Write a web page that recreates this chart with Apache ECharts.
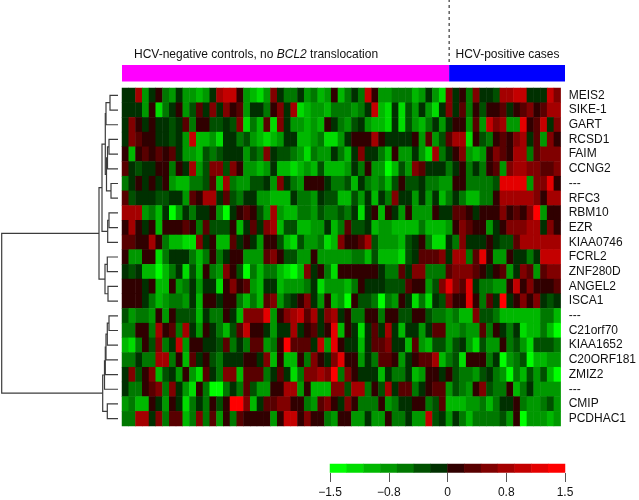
<!DOCTYPE html>
<html>
<head>
<meta charset="utf-8">
<title>HCV heatmap</title>
<style>
  html, body { margin: 0; padding: 0; background: #fff; }
  #main { width: 639px; height: 500px; }
</style>
<script src="https://cdn.jsdelivr.net/npm/echarts@6/dist/echarts.min.js"></script>
</head>
<body>
<div id="main"></div>
<script>
// gene labels, top to bottom
var genes = ['MEIS2', 'SIKE-1', 'GART', 'RCSD1', 'FAIM', 'CCNG2', '---', 'RFC3', 'RBM10', 'EZR', 'KIAA0746', 'FCRL2',
  'ZNF280D', 'ANGEL2', 'ISCA1', '---', 'C21orf70', 'KIAA1652', 'C20ORF181', 'ZMIZ2', '---', 'CMIP', 'PCDHAC1'];

// colour level of each cell, -7 (full green) .. 7 (full red), 65 samples per gene
var rowMEIS2 = [-1,-1,4,-4,-1,1,-3,-4,-1,-4, -4,-5,-4,-1,4,5,5,1,-4,-5, -6,-4,3,-1,-3,-3,-1,-4,-3,-5, -4,1,-5,-3,-1,-3,5,1,-4,-4, -3,-3,-3,-5,-4,-1,-4,-6,3,-1, 1,-3,3,-1,-1,-2,4,4,5,5, -1,-1,-1,5,3];
var rowSIKE1 = [-1,-1,-1,-4,1,-6,-3,-1,1,-4, -2,2,-1,3,-1,3,1,2,-4,-1, -1,-3,1,3,-1,4,-6,-5,-4,-4, -5,-3,-3,-3,-4,-3,-1,5,-5,-6, -1,-6,-2,-4,-1,-4,-6,-1,3,-1, 2,-3,1,-2,1,1,2,-1,1,2, 3,1,2,4,4];
var rowGART = [-1,3,1,-1,1,-1,-1,-2,-1,2, -3,1,1,-2,-2,-1,-2,3,-6,-3, -5,2,-6,3,-1,-4,-4,-5,-4,-5, 1,-1,-3,-4,-2,-1,-4,-5,-5,-6, -1,-6,-2,-4,-5,-3,-1,-4,-1,1, 1,-4,2,-4,5,3,4,-4,-4,6, 1,2,5,-1,3];
var rowRCSD1 = [-1,3,2,1,1,-1,-1,-2,-1,-4, 5,-5,-5,-4,-6,-1,-1,-3,-2,-4, -5,-6,-5,-4,-1,-1,-5,-5,-4,-3, -6,-6,-4,-1,1,1,1,4,1,-1, -1,-1,-1,1,-4,2,-4,-2,2,4, 4,-6,1,-2,-3,1,2,1,3,4, -1,2,-4,3,1];
var rowFAIM = [1,-5,1,2,1,2,1,2,-1,-4, -4,-5,-2,-3,-2,-1,-1,-1,-4,-2, -3,3,-1,-2,-2,-3,-4,-6,-3,-4, -4,-1,-3,-5,-1,3,-1,-1,-3,-5, 1,-4,-4,-1,-4,-6,4,-3,-1,1, 3,-4,-5,-4,1,3,2,1,4,4, -3,2,3,3,3];
var rowCCNG2 = [2,-1,-2,-1,-1,1,1,-3,1,-1, 4,-4,-2,3,3,-2,3,1,-4,-4, -5,-4,-1,-5,-5,-6,-5,-4,-5,-2, -5,-5,-5,-4,-1,-3,1,-4,-4,-7, -5,-2,-4,3,2,-1,-1,-1,-3,-1, 1,-3,-1,-3,1,2,-4,3,4,4, 3,3,2,2,3];
var rowDash1 = [-3,-1,1,-1,1,-1,1,-4,-5,-5, -3,-3,-2,2,-5,4,-3,-4,-4,-2, -2,-1,-4,3,-1,-3,-4,1,1,1, -1,-3,-3,-2,-5,-1,-3,-4,-3,-5, -2,1,-2,-2,-1,-3,-3,-4,-4,1, 1,-3,-3,-3,-3,-2,6,6,6,6, -4,3,3,6,1];
var rowRFC3 = [2,-2,-1,-1,-1,-2,-2,-1,-1,-4, 2,1,4,4,-1,2,-2,-3,-1,-1, -4,-4,-5,-5,-5,-1,-3,-3,-4,-1, -2,-2,-5,-5,-2,-4,-1,-5,-1,-3, 3,-1,-1,-4,-1,-4,-1,-5,-3,-1, -3,-5,-5,-3,-3,1,4,4,4,4, 4,3,1,4,4];
var rowRBM10 = [4,4,4,-4,-3,-5,-1,-7,-4,-1, -3,-1,-1,1,-4,-7,-1,1,2,1, -2,-4,4,-4,-5,-5,-3,-3,-4,-2, -3,-3,-2,-3,-1,-6,-1,1,-5,1, -1,-4,1,-4,-4,-4,1,-1,-1,2, 2,1,-1,1,1,1,3,1,2,1, 3,7,-4,1,1];
var rowEZR = [1,4,1,-1,1,-5,1,1,1,2, 1,-3,2,-2,-2,-2,1,-5,-1,2, -1,3,4,-5,-2,-2,-5,-5,-4,-4, -1,-5,-3,2,-2,-2,-1,-5,-4,-4, -5,-5,-5,-5,-3,-5,-5,-5,-4,1, 3,2,1,1,-4,-1,1,3,3,3, 4,4,-1,3,1];
var rowKIAA0746 = [2,2,1,1,4,1,-3,-5,-5,-6, -6,3,-1,1,-5,-5,2,-1,1,-1, -4,1,1,-2,-5,-6,-2,-4,-4,-3, -6,-5,3,1,1,2,4,-2,-4,-4, -4,-5,-2,-1,1,-3,-6,-6,-1,-3, 3,-1,-1,-1,1,-1,-2,-2,2,4, 4,4,4,4,4];
var rowFCRL2 = [1,-4,-4,1,1,-6,-3,-1,-1,-1, -3,-5,-3,1,-3,-1,1,1,-4,-4, -4,2,3,1,-2,-2,-4,-4,1,-4, -4,-4,-4,-4,-3,-3,-5,-2,-5,-5, -5,-6,-2,-1,2,2,2,3,-1,4, 4,-3,2,6,1,-4,-4,1,-1,-1, -3,-1,5,5,5];
var rowZNF280D = [-1,-2,-1,-5,-5,-7,-5,-3,-1,-6, -2,-5,1,-3,-4,3,1,-2,-7,-3, -5,-3,-3,-5,-6,-7,-5,3,-1,1, -3,-6,1,1,1,1,1,1,-1,-3, -3,2,-1,3,3,-3,-3,-3,2,3, 3,3,2,1,-1,1,2,-4,-1,3, 2,-4,2,3,3];
var rowANGEL2 = [1,1,1,-1,1,-5,-5,1,-4,-3, -1,-4,-1,-1,-6,1,3,1,2,-4, -5,-1,-1,-5,-4,-4,-4,-3,-1,-6, -4,-4,-4,-5,-3,1,-1,-1,-1,-2, -2,-2,2,1,1,-4,-2,3,6,3, 2,6,-1,-3,-3,-4,-4,1,5,1, 3,1,1,1,2];
var rowISCA1 = [1,1,1,-1,-3,-5,-4,-3,-3,-4, -1,-5,1,1,-1,1,1,-3,-5,-3, -5,2,3,-4,-2,-1,1,3,-1,-4, 1,-5,-4,-7,1,-2,-2,-3,-7,-3, -4,1,-1,-6,-3,-6,-1,-2,3,1, 1,6,1,-3,2,-1,7,-1,1,3, 1,3,-1,-2,-1];
var rowDash2 = [-2,-4,-3,-3,-4,1,-4,1,-2,-2, -2,-5,-1,-3,-3,1,-1,-5,3,3, 3,6,-4,1,3,4,5,2,4,-1, 3,4,-1,1,-3,-3,1,1,-3,1, 1,-2,-2,1,1,-2,-3,-3,-4,-3, -5,-5,3,-2,-2,-3,-5,-5,-5,-5, -5,-5,-3,-3,-5];
var rowC21orf70 = [-3,-3,1,1,-3,4,1,2,-3,4, -1,-4,1,-1,-3,-5,-2,2,5,1, 1,-1,-4,-1,-1,4,-1,1,2,-1, 1,6,-5,1,-1,-6,-1,2,-1,4, -1,-5,-1,-1,-4,-1,2,2,-4,-4, -3,-4,-4,2,-3,1,-1,-3,-1,-6, -5,-5,-3,-5,-7];
var rowKIAA1652 = [-5,-6,-3,1,-2,3,-3,-1,5,-4, 1,1,-1,-1,-2,2,-3,-1,-3,2, 2,-4,-3,1,7,2,2,2,-1,5, -4,6,1,-1,-1,-5,-1,2,2,3, -1,-1,-5,2,-4,-5,-2,-2,-4,-2, -1,-4,-6,-2,-4,-4,1,-3,-2,-4, -6,-2,-2,-2,-3];
var rowC20ORF181 = [-3,-3,-1,-3,-3,4,4,-3,1,-5, 2,-1,1,-2,-3,-1,-1,-1,1,1, -1,3,-5,1,-5,-5,1,-3,3,1, -1,3,6,1,1,-4,-1,-3,2,2, 1,-4,-1,1,2,2,4,-5,-3,-2, -6,1,1,1,-3,-1,-7,-4,-3,-2, -7,-5,-5,-4,-4];
var rowZMIZ2 = [-1,3,-2,1,3,-5,-2,-1,-4,1, -4,-6,2,-1,-3,3,3,-5,2,2, 2,-3,-1,2,-1,-6,-3,3,3,4, 3,7,-3,3,1,-1,-1,-1,-5,-1, -3,-3,-1,-5,-4,1,1,-1,1,-2, -3,-3,-4,-2,-1,-3,-4,-7,-3,-5, -2,-4,-2,-5,-7];
var rowDash3 = [-1,-3,-3,1,2,3,-3,3,-1,-4, -6,1,-3,-7,-7,-3,-1,-3,2,-2, -4,-4,1,1,4,4,-4,1,-5,-5, -5,3,3,-2,4,4,-3,1,-2,4, -1,2,2,-3,-1,1,2,2,-4,-2, -3,-4,1,3,-2,-3,-3,1,-5,-3, -1,-4,-4,-4,-4];
var rowCMIP = [-4,-3,-5,-5,1,-1,-4,1,-1,-6, -3,-1,-3,1,-2,1,7,7,3,-5, -1,2,2,3,3,1,1,-3,-4,2, 3,1,-1,3,1,-3,-3,-3,1,-4, -3,-1,-1,1,1,-3,-2,2,-5,-5, -5,-4,-4,-3,-5,-3,-1,-1,1,-3, -4,-4,-3,-2,-4];
var rowPCDHAC1 = [-3,-3,4,4,-1,3,-3,2,2,-5, -3,3,-3,2,-4,1,-3,2,1,1, 1,1,-4,1,5,5,1,3,1,1, -3,-4,1,1,-4,-4,-1,-4,-4,1, -3,-3,-1,-4,-4,5,-2,-1,-4,-1, -3,-5,-3,-3,-3,-3,-2,-4,1,-7, -4,-4,-4,-5,-4];

var heatRows = [rowMEIS2, rowSIKE1, rowGART, rowRCSD1, rowFAIM, rowCCNG2, rowDash1, rowRFC3, rowRBM10, rowEZR, rowKIAA0746, rowFCRL2,
  rowZNF280D, rowANGEL2, rowISCA1, rowDash2, rowC21orf70, rowKIAA1652, rowC20ORF181, rowZMIZ2, rowDash3, rowCMIP, rowPCDHAC1];

// sample groups across the top
var groupNames = ['HCV-negative', 'HCV-positive'];
var groupSizes = [48, 17];
var groupColors = ['#ff00ff', '#0000ff'];

// colour key, 7 greens then 7 reds, nothing in the middle
var keyLevels = [-7, -6, -5, -4, -3, -2, -1, 1, 2, 3, 4, 5, 6, 7];
var keyColors = ['#00ff00', '#00dc00', '#00b800', '#009800', '#007800', '#005000', '#003000',
  '#300000', '#580000', '#800000', '#a40000', '#c40000', '#e40000', '#ff0000'];
var keyTicks = [-1.5, -0.75, 0, 0.75, 1.5];

// dendrogram, hclust style: negative = leaf (row number), positive = earlier merge (1 based)
var treeMerge = [[-1, -2], [1, -3], [-4, -5], [3, -6], [-7, -8], [4, 5], [2, 6], [-9, -10], [8, -11], [7, 9],
  [-12, -13], [-14, -15], [11, 12], [10, 13], [-16, -17], [15, -18], [16, -19], [17, -20], [18, -21], [-22, -23], [19, 20], [14, 21]];
var treeHeight = [8, 12, 9, 10.5, 7, 11.5, 12.7, 9, 10.3, 16, 10.7, 10, 13, 19, 9, 10.7, 12, 12.7, 13.5, 10.7, 15.3, 116.3];

// cells
var sampleIds = rowMEIS2.map(function (v, i) { return i; });
var heatData = [];
heatRows.forEach(function (row, r) {
  row.forEach(function (v, c) {
    heatData.push([c, r, v]);
  });
});
var keyData = keyLevels.map(function (v, i) { return [i, 0, v]; });

// walk the merge table to get one polyline per merge
var nodeY = [];
var treeData = treeMerge.map(function (m, i) {
  function pos(id) {
    return id < 0 ? { h: 0, y: -id - 0.5 } : { h: treeHeight[id - 1], y: nodeY[id - 1] };
  }
  var a = pos(m[0]), b = pos(m[1]);
  nodeY[i] = (a.y + b.y) / 2;
  return [a.h, a.y, b.h, b.y, treeHeight[i]];
});

var fontName = '"Liberation Sans", Arial, sans-serif';
var chart = echarts.init(document.getElementById('main'));

chart.setOption({
  animation: false,
  backgroundColor: '#fff',
  title: [{
    text: '{n|HCV-negative controls, no }{i|BCL2}{n| translocation}',
    left: 134, top: 49, padding: 0,
    textStyle: {
      fontWeight: 'normal',
      rich: {
        n: { fontFamily: fontName, fontSize: 12, fontWeight: 'normal', color: '#111' },
        i: { fontFamily: fontName, fontSize: 12, fontWeight: 'normal', fontStyle: 'italic', color: '#111' }
      }
    }
  }, {
    text: 'HCV-positive cases',
    left: 455.5, top: 49, padding: 0,
    textStyle: { fontFamily: fontName, fontSize: 12, fontWeight: 'normal', color: '#111' }
  }],
  visualMap: {
    show: false,
    type: 'piecewise',
    seriesIndex: [0, 1],
    dimension: 2,
    pieces: keyLevels.map(function (v, i) { return { value: v, color: keyColors[i] }; })
  },
  grid: [
    { left: 122, top: 88, width: 443, height: 338 },
    { left: 1.5, top: 88, width: 116.5, height: 338 },
    { left: 122, top: 65, width: 443, height: 16.5 },
    { left: 122, top: 0, width: 443, height: 62 },
    { left: 330, top: 464, width: 235, height: 8.5 }
  ],
  xAxis: [
    { gridIndex: 0, type: 'category', data: sampleIds, show: false },
    { gridIndex: 1, type: 'value', min: 0, max: 116.5, inverse: true, show: false },
    { gridIndex: 2, type: 'value', min: 0, max: 65, show: false },
    { gridIndex: 3, type: 'value', min: 0, max: 65, show: false },
    { gridIndex: 4, type: 'category', data: keyLevels, show: false },
    {
      gridIndex: 4, type: 'value', min: -1.5, max: 1.5, position: 'bottom', offset: 0.5,
      splitLine: { show: false },
      axisLine: { show: false },
      axisTick: { show: true, customValues: keyTicks, length: 9, lineStyle: { color: '#555', width: 1 } },
      axisLabel: {
        customValues: keyTicks, margin: 14, fontFamily: fontName, fontSize: 12, color: '#111',
        showMinLabel: true, showMaxLabel: true,
        formatter: function (v) {
          return v === 0 ? '0' : v.toFixed(1).replace('-', '\u2212');
        }
      }
    }
  ],
  yAxis: [
    {
      gridIndex: 0, type: 'category', data: genes, inverse: true, position: 'right',
      axisLine: { show: false }, axisTick: { show: false },
      axisLabel: { interval: 0, margin: 8, fontFamily: fontName, fontSize: 12, color: '#111' }
    },
    { gridIndex: 1, type: 'value', min: 0, max: genes.length, inverse: true, show: false },
    { gridIndex: 2, type: 'category', data: ['group'], show: false },
    { gridIndex: 3, type: 'value', min: 0, max: 1, show: false },
    { gridIndex: 4, type: 'category', data: ['key'], show: false }
  ],
  series: [
    {
      name: 'expression', type: 'heatmap', xAxisIndex: 0, yAxisIndex: 0,
      data: heatData, progressive: 0
    },
    {
      name: 'key', type: 'heatmap', xAxisIndex: 4, yAxisIndex: 4,
      data: keyData
    },
    {
      name: 'tree', type: 'custom', xAxisIndex: 1, yAxisIndex: 1,
      encode: { x: [0, 2, 4], y: [1, 3] },
      data: treeData,
      renderItem: function (params, api) {
        var ha = api.value(0), ya = api.value(1), hb = api.value(2), yb = api.value(3), hm = api.value(4);
        return {
          type: 'polyline',
          shape: { points: [api.coord([ha, ya]), api.coord([hm, ya]), api.coord([hm, yb]), api.coord([hb, yb])] },
          style: { fill: null, stroke: '#3c3c3c', lineWidth: 1.2 }
        };
      }
    },
    {
      name: groupNames[0], type: 'bar', stack: 'groups', xAxisIndex: 2, yAxisIndex: 2, barWidth: '100%',
      data: [groupSizes[0]], itemStyle: { color: groupColors[0] }
    },
    {
      name: groupNames[1], type: 'bar', stack: 'groups', xAxisIndex: 2, yAxisIndex: 2, barWidth: '100%',
      data: [groupSizes[1]], itemStyle: { color: groupColors[1] }
    },
    {
      name: 'split', type: 'line', xAxisIndex: 3, yAxisIndex: 3, showSymbol: false,
      data: [[groupSizes[0], 0], [groupSizes[0], 1]],
      lineStyle: { color: '#111', width: 1, type: [3, 3] }
    }
  ]
});
</script>
</body>
</html>
